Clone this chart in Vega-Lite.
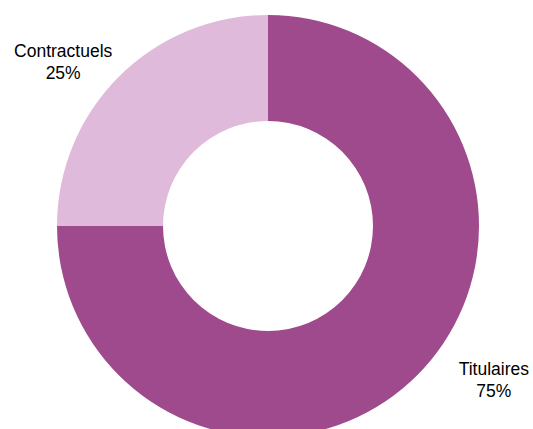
{
  "$schema": "https://vega.github.io/schema/vega-lite/v6.json",
  "width": 536,
  "height": 452,
  "padding": 0,
  "autosize": {"type": "none"},
  "background": "white",
  "config": {"view": {"stroke": null}, "text": {"font": "Liberation Sans"}},
  "data": {"values": [
    {"name": "Titulaires", "value": 75, "label": "Titulaires\n75%"},
    {"name": "Contractuels", "value": 25, "label": "Contractuels\n25%"}
  ]},
  "encoding": {
    "theta": {"field": "value", "type": "quantitative", "stack": true},
    "order": {"field": "name", "type": "nominal", "sort": "descending"}
  },
  "layer": [
    {
      "mark": {"type": "arc", "outerRadius": 211, "innerRadius": 105},
      "encoding": {
        "color": {"field": "name", "type": "nominal", "legend": null,
          "scale": {"domain": ["Titulaires", "Contractuels"], "range": ["#9E4A8C", "#E0BADA"]}}
      }
    },
    {
      "mark": {"type": "text", "radius": 260, "dx": -21, "dy": 10, "fontSize": 17.5, "lineBreak": "\n", "lineHeight": 22, "align": "center", "baseline": "middle", "color": "#000000"},
      "encoding": {"text": {"condition": {"test": "datum.name == 'Contractuels'", "field": "label"}, "value": ""}}
    },
    {
      "mark": {"type": "text", "radius": 260, "dx": 42, "dy": -40, "fontSize": 17.5, "lineBreak": "\n", "lineHeight": 22, "align": "center", "baseline": "middle", "color": "#000000"},
      "encoding": {"text": {"condition": {"test": "datum.name == 'Titulaires'", "field": "label"}, "value": ""}}
    }
  ]
}
